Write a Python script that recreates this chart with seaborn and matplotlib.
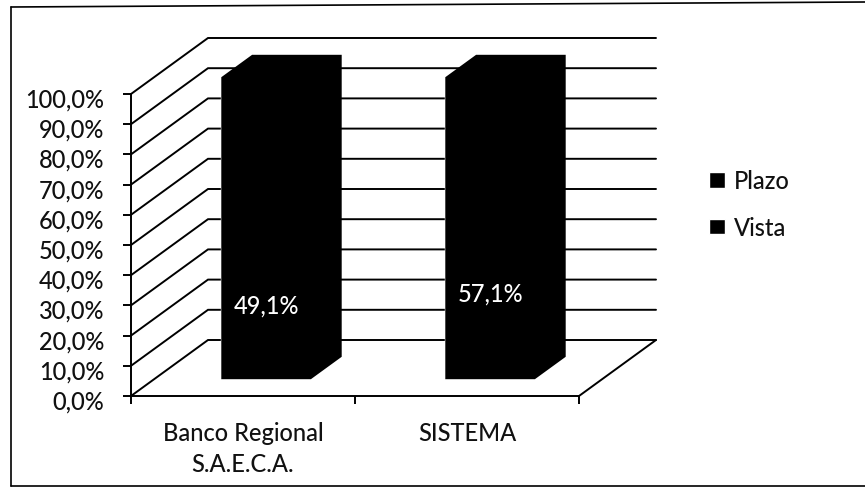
import matplotlib
matplotlib.use('Agg')
import matplotlib.pyplot as plt
from matplotlib.lines import Line2D
from matplotlib.patches import Polygon
from matplotlib.transforms import ScaledTranslation
import seaborn as sns

categories = ['Banco Regional\nS.A.E.C.A.', 'SISTEMA']
vista = [49.1, 57.1]
plazo = [50.9, 42.9]
yticks = [0, 10, 20, 30, 40, 50, 60, 70, 80, 90, 100]

W, H = 865, 489

sns.set_theme(style='white')
plt.rcParams['font.family'] = ['Lato', 'DejaVu Sans']

fig = plt.figure(figsize=(W / 100, H / 100), dpi=100, facecolor='white')
# front plane of the fake 3d box, pixels 131..579 / 95..397
ax = fig.add_axes([131 / W, 1 - 397 / H, 448 / W, 302 / H])

sns.barplot(x=categories, y=vista, color='black', width=0.4, saturation=1, ax=ax, label='Vista')
sns.barplot(x=categories, y=plazo, bottom=vista, color='black', width=0.4, saturation=1, ax=ax, label='Plazo')

ax.set_xlim(-0.5, 1.5)
ax.set_ylim(0, 100)

# depth of the box in data units
dx = 77 / 224
dy = 56 / 302 * 100
lw = 1.4


def depth(x, y, d):
    return x + d * dx, y + d * dy


# walls
for v in yticks:
    x0, y0 = depth(-0.5, v, 1)
    ax.plot([-0.5, x0, 1.5 + dx], [v, y0, y0], color='black', lw=lw, clip_on=False, zorder=0.5, solid_joinstyle='miter')
ax.plot([1.5, 1.5 + dx], [0, dy], color='black', lw=lw, clip_on=False, zorder=0.5)

# move bars back to mid depth
for cont in ax.containers:
    for p in cont.patches:
        p.set_x(p.get_x() + 0.3 * dx)
        p.set_y(p.get_y() + 0.3 * dy)
        p.set_clip_on(False)
        p.set_zorder(2)
# side faces, one outline round each stacked pair
for low, high in zip(ax.containers[0].patches, ax.containers[1].patches):
    x0, x1 = low.get_x(), low.get_x() + low.get_width()
    y0, y1 = low.get_y(), high.get_y() + high.get_height()
    sx, sy = 0.4 * dx, 0.4 * dy
    ax.add_patch(Polygon([(x0, y0), (x0, y1), (x0 + sx, y1 + sy), (x1 + sx, y1 + sy), (x1 + sx, y0 + sy), (x1, y0)],
                         closed=True, facecolor='black', edgecolor='none', clip_on=False, zorder=2))

ax.bar_label(ax.containers[0], labels=[f'{v:.1f}%'.replace('.', ',') for v in vista], label_type='center',
             color='white', fontsize=17, fontweight='medium', zorder=3)

sns.despine(ax=ax)
ax.patch.set_alpha(0)
for s in ['left', 'bottom']:
    ax.spines[s].set_color('black')
    ax.spines[s].set_linewidth(lw)

ax.set_yticks(yticks)
ax.set_yticklabels([f'{v:.1f}%'.replace('.', ',') for v in yticks], fontsize=17, fontweight='medium', color='#111111')
ax.set_xticks([0, 1])
ax.set_xticklabels(categories, fontsize=17, fontweight='medium', color='#111111', linespacing=1.4)
ax.set_xticks([-0.5, 0.5, 1.5], minor=True)
ax.tick_params(axis='y', left=True, length=6, width=lw, color='black', pad=13)
ax.tick_params(axis='x', which='major', bottom=False, length=0, pad=18)
ax.tick_params(axis='x', which='minor', bottom=True, length=6, width=lw, color='black')
ax.set_xlabel('')
ax.set_ylabel('')
for t in ax.get_yticklabels():
    t.set_transform(t.get_transform() + ScaledTranslation(0, -3 / 100, fig.dpi_scale_trans))

handles, labels = ax.get_legend_handles_labels()
order = [labels.index('Plazo'), labels.index('Vista')]
ax.legend([handles[i] for i in order], [labels[i] for i in order], frameon=False,
          prop={'size': 17, 'weight': 'medium'},
          loc='center left', bbox_to_anchor=(688 / W, 1 - 205 / H), bbox_transform=fig.transFigure,
          handlelength=0.65, handleheight=0.65, handletextpad=0.38, labelspacing=1.0, labelcolor='#111111')

# scanned frame, no right edge
frame = [([11, 11], [8, 487]), ([11, W], [8, 3]), ([11, W], [487, 487])]
for xs, ys in frame:
    fig.add_artist(Line2D([x / W for x in xs], [1 - y / H for y in ys], color='black', lw=1.2))

fig.savefig('out.png', dpi=100)
